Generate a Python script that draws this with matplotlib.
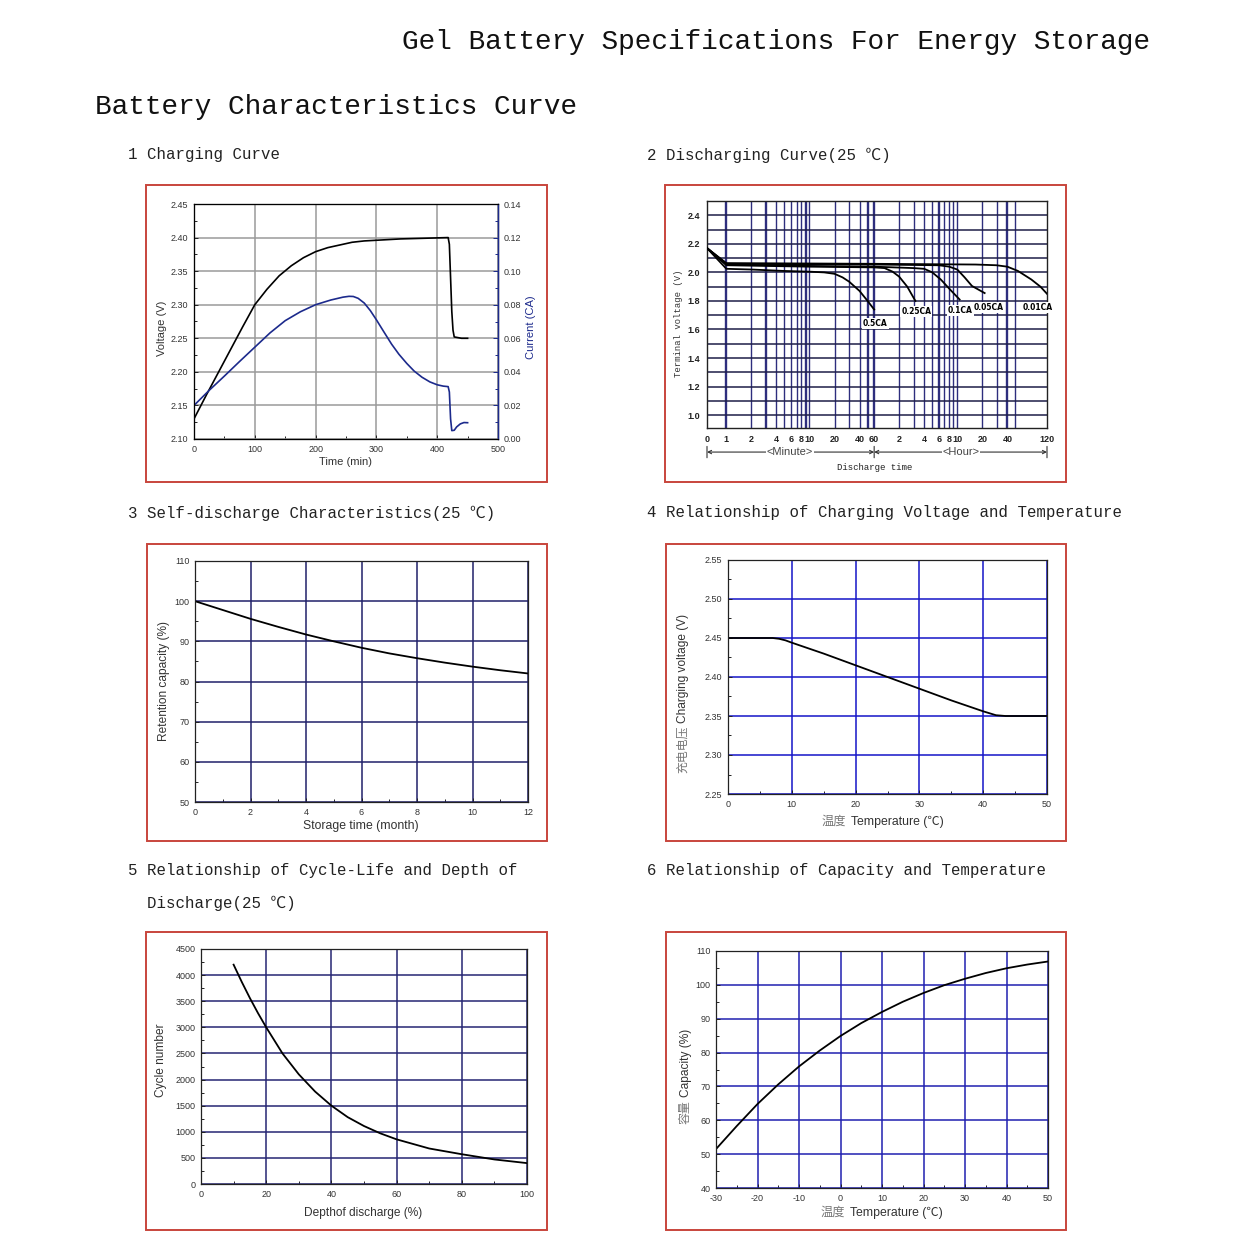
import matplotlib
matplotlib.use("Agg")
import matplotlib.pyplot as plt
from matplotlib.patches import Rectangle
from matplotlib.ticker import MultipleLocator, FixedLocator, NullLocator, FormatStrFormatter

W, H = 1239, 1260
MONO = ["Liberation Mono", "Noto Sans CJK SC"]
SANS = ["Liberation Sans", "Noto Sans CJK SC"]
plt.rcParams["font.family"] = SANS
plt.rcParams["axes.unicode_minus"] = False

# 1 charging curve
charge_t = [0, 20, 40, 60, 80, 100, 120, 140, 160, 180, 200, 220, 240, 260, 280, 300,
            340, 380, 418, 420, 422, 424, 426, 428, 440, 450]
charge_v = [2.130, 2.165, 2.199, 2.233, 2.267, 2.300, 2.323, 2.343, 2.358, 2.370, 2.379,
            2.385, 2.389, 2.393, 2.395, 2.396, 2.398, 2.399, 2.400, 2.390, 2.340, 2.290,
            2.262, 2.252, 2.250, 2.250]
current_t = [0, 25, 50, 75, 100, 125, 150, 175, 200, 225, 245, 255, 262, 270, 280, 290,
             300, 312, 325, 337, 350, 362, 375, 388, 400, 410, 418, 420, 422, 424, 428,
             432, 438, 444, 450]
current_a = [0.0200, 0.0290, 0.0375, 0.0462, 0.0547, 0.0632, 0.0705, 0.0758, 0.0800,
             0.0828, 0.0845, 0.0850, 0.0849, 0.0838, 0.0810, 0.0765, 0.0710, 0.0640,
             0.0565, 0.0505, 0.0450, 0.0405, 0.0368, 0.0340, 0.0323, 0.0315, 0.0312,
             0.0280, 0.0120, 0.0050, 0.0052, 0.0072, 0.0090, 0.0098, 0.0097]

# 2 discharging curve, time in minutes (first point = axis origin "0")
T0 = 0.585
dis_rates = ["0.5CA", "0.25CA", "0.1CA", "0.05CA", "0.01CA"]
dis_t = [
    [T0, 1, 2, 5, 10, 15, 20, 25, 30, 40, 50, 60],
    [T0, 1, 10, 60, 80, 100, 120, 150, 188],
    [T0, 1, 10, 60, 180, 240, 300, 380, 500, 640],
    [T0, 1, 60, 360, 480, 600, 735, 900, 1280],
    [T0, 1, 60, 1000, 1770, 2400, 3220, 4670, 6000, 7200],
]
dis_v = [
    [2.17, 2.025, 2.02, 2.01, 2.005, 2.0, 1.99, 1.965, 1.935, 1.87, 1.80, 1.74],
    [2.17, 2.05, 2.04, 2.035, 2.03, 2.005, 1.97, 1.90, 1.80],
    [2.17, 2.055, 2.045, 2.04, 2.03, 2.025, 2.00, 1.95, 1.875, 1.81],
    [2.17, 2.06, 2.055, 2.05, 2.04, 2.02, 1.965, 1.905, 1.855],
    [2.17, 2.065, 2.06, 2.055, 2.05, 2.04, 2.01, 1.95, 1.90, 1.85],
]
dis_label_t = [62, 193, 653, 1431, 5510]
dis_label_v = [1.64, 1.725, 1.735, 1.755, 1.755]
dis_ticks = [T0, 1, 2, 4, 6, 8, 10, 20, 40, 60, 120, 240, 360, 480, 600, 1200, 2400, 7200]
dis_ticklabels = ["0", "1", "2", "4", "6", "8", "10", "20", "40", "60",
                  "2", "4", "6", "8", "10", "20", "40", "120"]
dis_grid = [1, 2, 3, 4, 5, 6, 7, 8, 9, 10, 20, 30, 40, 50, 60,
            120, 180, 240, 300, 360, 420, 480, 540, 600, 1200, 1800, 2400, 3000]
dis_grid_bold = [1, 3, 9, 50, 60, 360, 2400]

# 3 self-discharge
months = [0, 1, 2, 3, 4, 5, 6, 7, 8, 9, 10, 11, 12]
retention = [100, 97.8, 95.6, 93.6, 91.7, 90.0, 88.4, 87.0, 85.8, 84.7, 83.7, 82.8, 82.0]

# 4 charging voltage vs temperature
cv_temp = [0, 7, 8, 9, 10, 15, 20, 25, 30, 35, 40, 42, 43.5, 50]
cv_volt = [2.45, 2.45, 2.449, 2.447, 2.444, 2.430, 2.415, 2.400, 2.385, 2.370, 2.356,
           2.351, 2.350, 2.350]

# 5 cycle life vs depth of discharge
dod = [10, 12.5, 15, 17.5, 20, 25, 30, 35, 40, 45, 50, 55, 60, 70, 80, 90, 100]
cycles = [4200, 3870, 3560, 3270, 3000, 2500, 2100, 1770, 1500, 1280, 1110, 970, 855,
          680, 570, 470, 400]

# 6 capacity vs temperature
cap_temp = [-30, -25, -20, -15, -10, -5, 0, 5, 10, 15, 20, 25, 30, 35, 40, 45, 50]
capacity = [51.5, 58.3, 64.8, 70.6, 75.9, 80.6, 84.9, 88.7, 92.0, 95.0, 97.6, 99.9,
            101.8, 103.5, 104.9, 106.0, 106.9]

fig = plt.figure(figsize=(W / 100, H / 100), dpi=100)


def box(x0, y0, x1, y1):
    return [x0 / W, 1 - y1 / H, (x1 - x0) / W, (y1 - y0) / H]


def put(x, y, s, **kw):
    kw.setdefault("ha", "center")
    kw.setdefault("va", "center")
    return fig.text(x / W, 1 - y / H, s, **kw)


def panel(rect, gridcolor):
    ax = fig.add_axes(box(*rect))
    ax.tick_params(which="both", direction="in", labelsize=6.5, labelcolor="#333",
                   width=0.7, color="#222")
    ax.tick_params(which="major", length=3, pad=4)
    ax.tick_params(which="minor", length=2)
    ax.grid(True, which="major", color=gridcolor, lw=1.1)
    for s in ax.spines.values():
        s.set_color("#222")
        s.set_linewidth(0.9)
    return ax


def cn_en(ax, x, y, cn, en, rot=0, size=8.8):
    t = put(x, y, en, rotation=rot, fontsize=size, color="#333")
    if rot:
        ax.annotate(cn, xy=(0.5, 0), xycoords=t, xytext=(0, -2), textcoords="offset points",
                    rotation=90, ha="center", va="top", fontsize=size, color="#777",
                    annotation_clip=False)
    else:
        ax.annotate(cn, xy=(0, 0.5), xycoords=t, xytext=(-3, 0), textcoords="offset points",
                    ha="right", va="center", fontsize=size, color="#777",
                    annotation_clip=False)


# headings
put(402, 42, "Gel Battery Specifications For Energy Storage", ha="left",
    family=MONO, fontsize=20, color="#111")
put(95, 107, "Battery Characteristics Curve", ha="left", family=MONO, fontsize=20, color="#111")
heads = [(128, 155, "1 Charging Curve"), (647, 155, "2 Discharging Curve(25 ℃)"),
         (128, 513, "3 Self-discharge Characteristics(25 ℃)"),
         (647, 513, "4 Relationship of Charging Voltage and Temperature"),
         (128, 871, "5 Relationship of Cycle-Life and Depth of"),
         (147, 903, "Discharge(25 ℃)"),
         (647, 871, "6 Relationship of Capacity and Temperature")]
for x, y, s in heads:
    put(x, y, s, ha="left", family=MONO, fontsize=11.3, color="#222")

# red frames
frames = [(146, 185, 547, 482), (665, 185, 1066, 482), (147, 544, 547, 841),
          (666, 544, 1066, 841), (146, 932, 547, 1230), (666, 932, 1066, 1230)]
for x0, y0, x1, y1 in frames:
    fig.add_artist(Rectangle((x0 / W, 1 - y1 / H), (x1 - x0) / W, (y1 - y0) / H,
                             transform=fig.transFigure, fill=False,
                             edgecolor="#c8453c", lw=1.4))

# ---- 1 charging curve ----
ax1 = panel((194, 204, 498, 439), "#9a9a9a")
ax1.plot(charge_t, charge_v, color="black", lw=1.2)
ax1.set_xlim(0, 500)
ax1.set_ylim(2.10, 2.45)
ax1.xaxis.set_major_locator(MultipleLocator(100))
ax1.xaxis.set_minor_locator(MultipleLocator(50))
ax1.yaxis.set_major_locator(MultipleLocator(0.05))
ax1.yaxis.set_minor_locator(MultipleLocator(0.025))
ax1.yaxis.set_major_formatter(FormatStrFormatter("%.2f"))
ax1b = ax1.twinx()
ax1b.plot(current_t, current_a, color="#1c2a8c", lw=1.2)
ax1b.set_ylim(0, 0.14)
ax1b.yaxis.set_major_locator(MultipleLocator(0.02))
ax1b.yaxis.set_minor_locator(MultipleLocator(0.01))
ax1b.yaxis.set_major_formatter(FormatStrFormatter("%.2f"))
ax1b.tick_params(which="both", direction="in", labelsize=6.5, labelcolor="#333",
                 color="#1c2a8c", width=0.7, pad=4)
ax1b.tick_params(which="minor", length=2)
ax1b.spines["right"].set_color("#1c2a8c")
ax1b.spines["right"].set_linewidth(1.0)
put(162, 328, "Voltage (V)", rotation=90, fontsize=8, color="#333")
put(531, 327, "Current (CA)", rotation=90, fontsize=8, color="#1c2a8c")
put(346, 462, "Time (min)", fontsize=8, color="#333")

# ---- 2 discharging curve ----
ax2 = fig.add_axes(box(707, 201, 1047, 428))
ax2.set_xscale("log")
ax2.set_xlim(T0, 7200)
ax2.set_ylim(0.91, 2.5)
ax2.xaxis.set_major_locator(FixedLocator(dis_ticks))
ax2.xaxis.set_minor_locator(NullLocator())
ax2.set_xticklabels(dis_ticklabels)
ax2.yaxis.set_major_locator(MultipleLocator(0.2))
ax2.yaxis.set_minor_locator(MultipleLocator(0.1))
ax2.yaxis.set_major_formatter(FormatStrFormatter("%.1f"))
ax2.tick_params(which="both", length=0, labelsize=6.5, labelcolor="#222", pad=5)
for lab in ax2.get_xticklabels() + ax2.get_yticklabels():
    lab.set_fontweight("bold")
ax2.grid(True, axis="y", which="both", color="#1e1e48", lw=1.1)
for g in dis_grid:
    ax2.axvline(g, color="#2e2e7e", lw=1.7 if g in dis_grid_bold else 1.0, zorder=1)
for s in ax2.spines.values():
    s.set_color("#222")
    s.set_linewidth(1.0)
for t, v in zip(dis_t, dis_v):
    ax2.plot(t, v, color="black", lw=1.3, zorder=3)
for name, t, v in zip(dis_rates, dis_label_t, dis_label_v):
    ax2.text(t, v, name, ha="center", va="center", fontsize=5.5, fontweight="bold",
             family=["DejaVu Sans"], zorder=4,
             bbox=dict(facecolor="white", edgecolor="none", pad=0.8))
ytr = ax2.get_xaxis_transform()
ay = -0.106
ax2.annotate("", xy=(60, ay), xytext=(T0, ay), xycoords=ytr, textcoords=ytr,
             arrowprops=dict(arrowstyle="<->", color="#333", lw=0.8,
                             shrinkA=0, shrinkB=0, mutation_scale=6),
             annotation_clip=False)
ax2.annotate("", xy=(7200, ay), xytext=(60, ay), xycoords=ytr, textcoords=ytr,
             arrowprops=dict(arrowstyle="<->", color="#333", lw=0.8,
                             shrinkA=0, shrinkB=0, mutation_scale=6),
             annotation_clip=False)
for xb in [T0, 60, 7200]:
    ax2.annotate("", xy=(xb, ay - 0.025), xytext=(xb, ay + 0.025), xycoords=ytr,
                 textcoords=ytr, arrowprops=dict(arrowstyle="-", color="#333", lw=0.8,
                                                 shrinkA=0, shrinkB=0),
                 annotation_clip=False)
ax2.text(5.8, ay, "<Minute>", transform=ytr, ha="center", va="center", fontsize=8,
         color="#444", bbox=dict(facecolor="white", edgecolor="none", pad=0.5))
ax2.text(671, ay, "<Hour>", transform=ytr, ha="center", va="center", fontsize=8,
         color="#444", bbox=dict(facecolor="white", edgecolor="none", pad=0.5))
put(678, 323, "Terminal voltage (V)", rotation=90, family=MONO, fontsize=6.4, color="#333")
put(875, 467, "Discharge time", family=MONO, fontsize=6.5, color="#222")

# ---- 3 self-discharge ----
ax3 = panel((195, 561, 528, 802), "#20206a")
ax3.plot(months, retention, color="black", lw=1.3)
ax3.set_xlim(0, 12)
ax3.set_ylim(50, 110)
ax3.xaxis.set_major_locator(MultipleLocator(2))
ax3.xaxis.set_minor_locator(MultipleLocator(1))
ax3.yaxis.set_major_locator(MultipleLocator(10))
ax3.yaxis.set_minor_locator(MultipleLocator(5))
put(164, 681, "Retention capacity (%)", rotation=90, fontsize=8.6, color="#333")
put(361, 826, "Storage time (month)", fontsize=8.8, color="#333")

# ---- 4 charging voltage vs temperature ----
ax4 = panel((728, 560, 1047, 794), "#1515c8")
ax4.plot(cv_temp, cv_volt, color="black", lw=1.3)
ax4.set_xlim(0, 50)
ax4.set_ylim(2.25, 2.55)
ax4.xaxis.set_major_locator(MultipleLocator(10))
ax4.xaxis.set_minor_locator(MultipleLocator(5))
ax4.yaxis.set_major_locator(MultipleLocator(0.05))
ax4.yaxis.set_minor_locator(MultipleLocator(0.025))
ax4.yaxis.set_major_formatter(FormatStrFormatter("%.2f"))
cn_en(ax4, 683, 668, "充电电压", "Charging voltage (V)", rot=90, size=8.6)
cn_en(ax4, 897, 822, "温度", "Temperature (℃)", size=8.8)

# ---- 5 cycle life ----
ax5 = panel((201, 949, 527, 1184), "#262673")
ax5.plot(dod, cycles, color="black", lw=1.3)
ax5.set_xlim(0, 100)
ax5.set_ylim(0, 4500)
ax5.xaxis.set_major_locator(MultipleLocator(20))
ax5.xaxis.set_minor_locator(MultipleLocator(10))
ax5.yaxis.set_major_locator(MultipleLocator(500))
ax5.yaxis.set_minor_locator(MultipleLocator(250))
ax5.xaxis.get_gridlines()[1].set_color("#111")
put(161, 1060, "Cycle number", rotation=90, fontsize=8.6, color="#333")
put(363, 1213, "Depthof discharge (%)", fontsize=8.6, color="#333")

# ---- 6 capacity vs temperature ----
ax6 = panel((716, 951, 1048, 1188), "#2020b0")
ax6.plot(cap_temp, capacity, color="black", lw=1.3)
ax6.set_xlim(-30, 50)
ax6.set_ylim(40, 110)
ax6.xaxis.set_major_locator(MultipleLocator(10))
ax6.xaxis.set_minor_locator(MultipleLocator(5))
ax6.yaxis.set_major_locator(MultipleLocator(10))
ax6.yaxis.set_minor_locator(MultipleLocator(5))
cn_en(ax6, 686, 1063, "容量", "Capacity (%)", rot=90, size=8.6)
cn_en(ax6, 896, 1213, "温度", "Temperature (℃)", size=8.8)

fig.savefig("out.png", dpi=100, facecolor="white")
